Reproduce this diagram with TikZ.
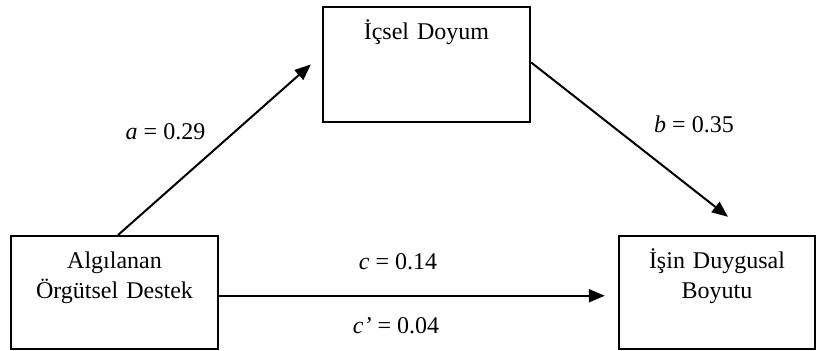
\documentclass[tikz,border=0pt]{standalone}
\usepackage{fontspec}
\setmainfont{Liberation Serif}
\usepackage{tikz}
\usetikzlibrary{arrows.meta}

\begin{document}
\begin{tikzpicture}[
    x=0.5pt, y=-0.5pt,
    box/.style={
      draw=black, line width=1.2pt, inner sep=0pt,
      minimum width=103.5pt, minimum height=56.5pt
    },
    boxtext/.style={
      anchor=base, align=center, text width=100pt, inner sep=0pt,
      font=\fontsize{12}{15}\selectfont
    },
    lbl/.style={anchor=base, inner sep=0pt, font=\fontsize{12}{15}\selectfont},
    arr/.style={-{Triangle[length=8pt, width=6.5pt]}, line width=1pt},
  ]
    \useasboundingbox (0,0) rectangle (816,351);
    % boxes
    \node[box] (ods) at (114.5,292.75) {};
    \node[box, minimum height=57.5pt] (ids) at (426.5,64.5) {};
    \node[box, minimum width=98pt] (ibd) at (717,292.5) {};
    \node[boxtext] (odst) at (114.5,269) {Algılanan\\Örgütsel Destek};
    \node[boxtext] (idst) at (426.5,40) {İçsel Doyum};
    \node[boxtext] (ibdt) at (717,269) {İşin Duygusal\\Boyutu};
    % paths
    \draw[arr] ([xshift=1.75pt]ods.north) -- ([xshift=-5.5pt]ids.west);
    \draw[arr] ([yshift=1pt]ids.east) -- ([xshift=5.5pt, yshift=9pt]ibd.north);
    \draw[arr] ([yshift=-1.5pt]ods.east) -- ([xshift=-6.5pt, yshift=-1.5pt]ods.east -| ibd.west);
    % coefficients
    \node[lbl] (pa) at (165.5,140) {\textit{a} = 0.29};
    \node[lbl] (pb) at (694,133) {\textit{b} = 0.35};
    \node[lbl] (pc) at (398,270) {\textit{c} = 0.14};
    \node[lbl] (pcp) at (396,334) {\textit{c’} = 0.04};
  \end{tikzpicture}
\end{document}
